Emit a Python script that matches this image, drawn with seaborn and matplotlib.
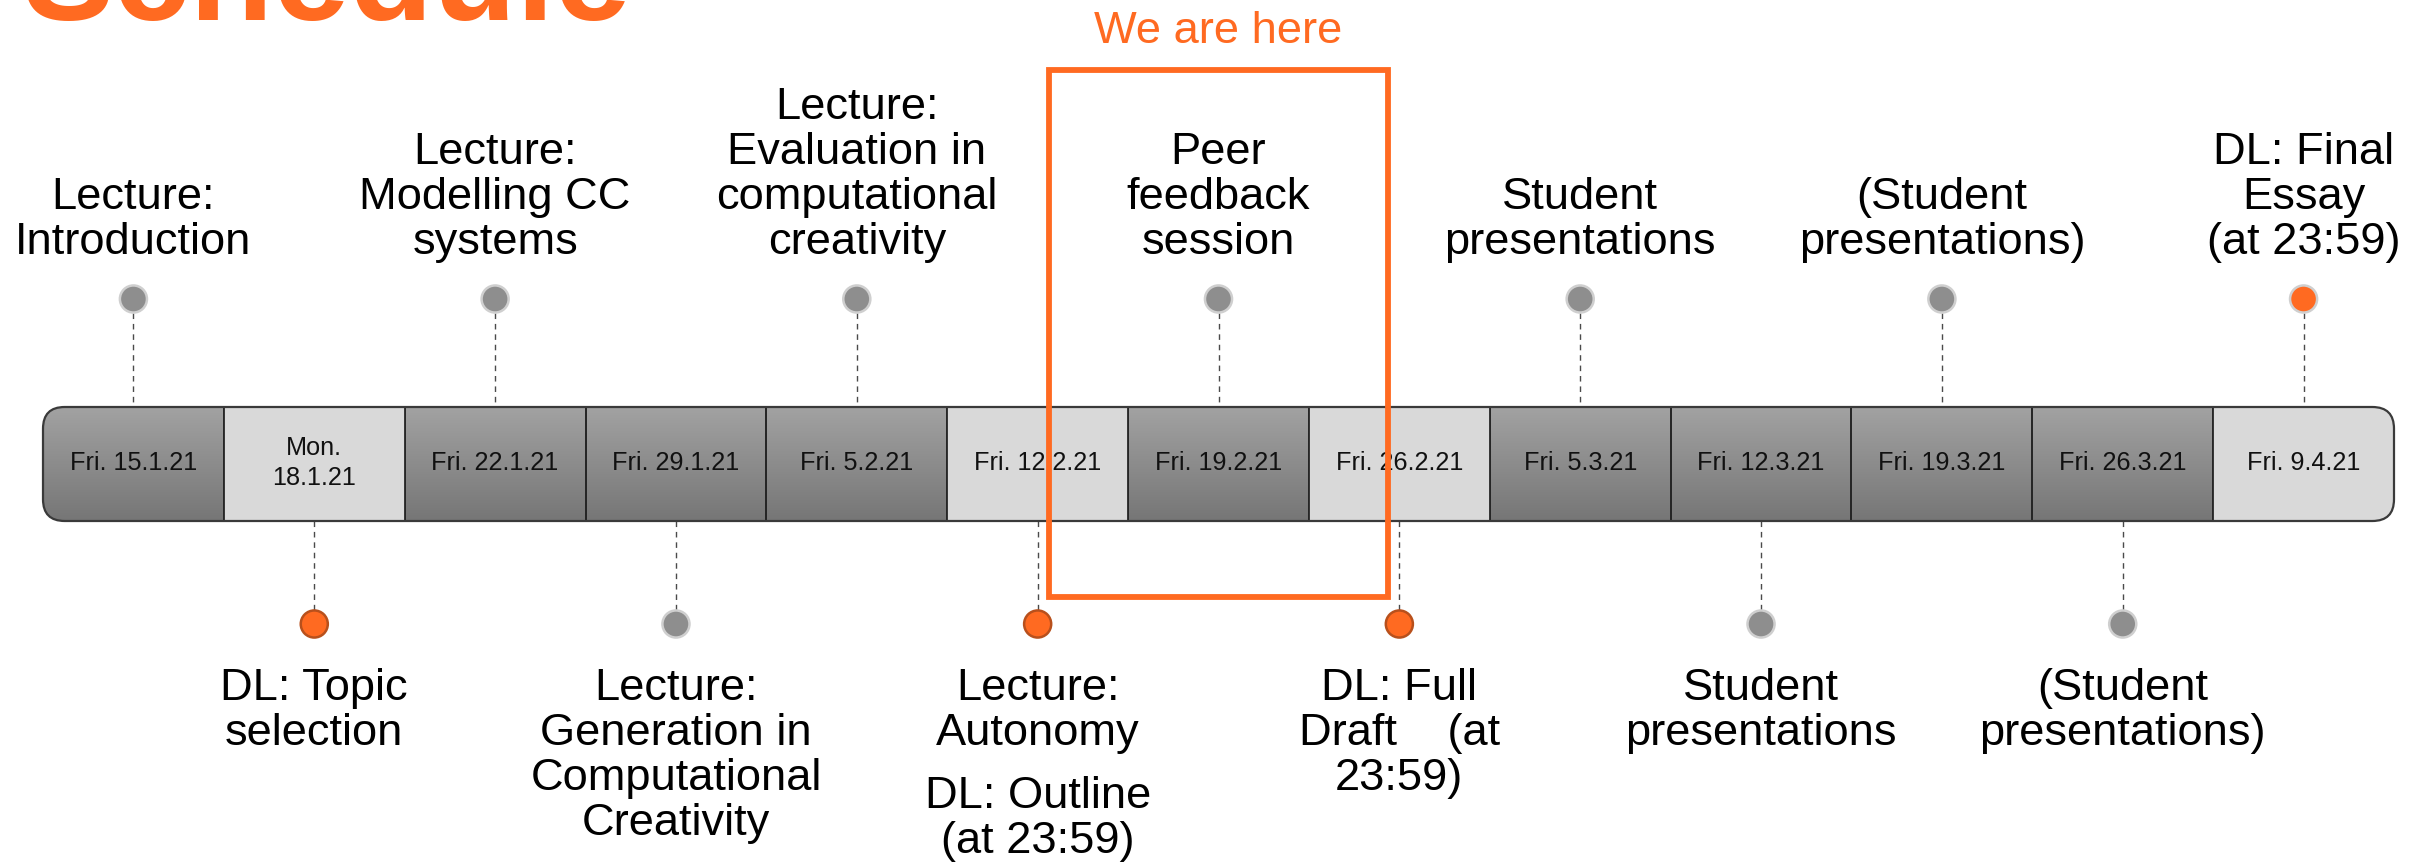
import numpy as np
import pandas as pd
import seaborn as sns
import matplotlib.pyplot as plt
from matplotlib.patches import FancyBboxPatch, Rectangle
from matplotlib.colors import LinearSegmentedColormap

# ---- data -------------------------------------------------------------
dates = ["Fri. 15.1.21", "Mon.\n18.1.21", "Fri. 22.1.21", "Fri. 29.1.21",
         "Fri. 5.2.21", "Fri. 12.2.21", "Fri. 19.2.21", "Fri. 26.2.21",
         "Fri. 5.3.21", "Fri. 12.3.21", "Fri. 19.3.21", "Fri. 26.3.21",
         "Fri. 9.4.21"]
cell_kind = ["session", "deadline", "session", "session", "session",
             "deadline", "session", "deadline", "session", "session",
             "session", "session", "deadline"]

event_labels = ["Lecture:\nIntroduction",
                "DL: Topic\nselection",
                "Lecture:\nModelling CC\nsystems",
                "Lecture:\nGeneration in\nComputational\nCreativity",
                "Lecture:\nEvaluation in\ncomputational\ncreativity",
                "Lecture:\nAutonomy",
                "Peer\nfeedback\nsession",
                "DL: Full\nDraft    (at\n23:59)",
                "Student\npresentations",
                "Student\npresentations",
                "(Student\npresentations)",
                "(Student\npresentations)",
                "DL: Final\nEssay\n(at 23:59)"]
event_side = ["top", "bottom"] * 6 + ["top"]
event_kind = ["lecture", "deadline", "lecture", "lecture", "lecture",
              "deadline", "lecture", "deadline", "lecture", "lecture",
              "lecture", "lecture", "deadline"]
extra_notes = {5: "DL: Outline\n(at 23:59)"}
current_week = 6

# ---- layout (figure pixels, y grows downwards) -------------------------
W, H = 2433, 866
BAR_TOP, BAR_H = 407, 114
TOP_MARK, BOT_MARK, MARK_R = 299, 624, 14
TOP_TEXT, BOT_TEXT, NOTE_TEXT = 263, 668, 776
PX_PER_CELL = (2394 - 43) / len(dates)
ORANGE = "#ff6a21"
BODY_FS, BODY_LS = 32.6, 1.12

sns.set_style("white")
plt.rcParams["font.family"] = ["Liberation Sans", "DejaVu Sans"]

fig = plt.figure(figsize=(W / 100, H / 100), dpi=100)
ax = fig.add_axes([0, 0, 1, 1])

cells = pd.DataFrame({"date": dates, "kind": cell_kind, "h": BAR_H})
sns.barplot(data=cells, x="date", y="h", hue="kind", order=dates,
            palette={"session": "#8c8c8c", "deadline": "#d9d9d9"},
            width=1.0, dodge=False, errorbar=None, legend=False,
            bottom=BAR_TOP, edgecolor="#262626", linewidth=1.3, zorder=2, ax=ax)

n = len(dates)
x_left = -0.5 - 43 / PX_PER_CELL
x_right = x_left + W / PX_PER_CELL

# rounded outline of the whole strip
outline = FancyBboxPatch((-0.5, BAR_TOP), n, BAR_H,
                         boxstyle="round,pad=0,rounding_size=0.12",
                         mutation_aspect=PX_PER_CELL,
                         fc="none", ec="#3a3a3a", lw=1.6, zorder=4)
ax.add_patch(outline)

# gradient fill behind the dark cells
grad_cmap = LinearSegmentedColormap.from_list("g", ["#a2a2a2", "#767676"])
grad = np.linspace(0, 1, 200).reshape(-1, 1)
im = ax.imshow(grad, cmap=grad_cmap, aspect="auto", origin="upper",
               extent=(-0.5, n - 0.5, BAR_TOP + BAR_H, BAR_TOP), zorder=1)
im.set_clip_path(outline)

for p in ax.patches:
    if p is outline:
        continue
    idx = int(round(p.get_x() + p.get_width() / 2))
    if cell_kind[idx] == "session":
        p.set_facecolor("none")
    p.set_clip_path(outline)

# date labels inside the cells
for i, d in enumerate(dates):
    ax.text(i, BAR_TOP + BAR_H / 2 - 1, d, ha="center", va="center",
            fontsize=18.2, linespacing=1.34, color="#111111", zorder=5)

# markers, connectors and event labels
ev = pd.DataFrame({"x": range(n), "side": event_side, "kind": event_kind})
ev["y"] = np.where(ev["side"] == "top", TOP_MARK, BOT_MARK)
edge_cols = ["#b8501c" if (k == "deadline" and s == "bottom") else "#cfcfcf"
             for k, s in zip(event_kind, event_side)]

for i, s in enumerate(event_side):
    if s == "top":
        ax.vlines(i, TOP_MARK + MARK_R, BAR_TOP, colors="#4a4a4a", lw=1.0,
                  linestyles=(0, (4, 3.5)), zorder=1)
        ax.text(i, TOP_TEXT, event_labels[i], ha="center", va="bottom",
                fontsize=BODY_FS, linespacing=BODY_LS, color="black")
    else:
        ax.vlines(i, BAR_TOP + BAR_H, BOT_MARK - MARK_R, colors="#4a4a4a", lw=1.0,
                  linestyles=(0, (4, 3.5)), zorder=1)
        ax.text(i, BOT_TEXT, event_labels[i], ha="center", va="top",
                fontsize=BODY_FS, linespacing=BODY_LS, color="black")
for i, note in extra_notes.items():
    ax.text(i, NOTE_TEXT, note, ha="center", va="top",
            fontsize=BODY_FS, linespacing=BODY_LS, color="black")

sns.scatterplot(data=ev, x="x", y="y", hue="kind",
                palette={"lecture": "#8e8e8e", "deadline": ORANGE},
                s=380, edgecolor=edge_cols, linewidth=1.8, legend=False,
                zorder=6, ax=ax)
ax.set_xlim(x_left, x_right)
ax.set_ylim(H, 0)
ax.axis("off")

# "we are here" box
half = 0.935
ax.add_patch(Rectangle((current_week - half, 70), 2 * half, 527, fill=False,
                       ec=ORANGE, lw=4.2, zorder=10))
ax.text(current_week, 43, "We are here", ha="center", va="baseline",
        fontsize=BODY_FS, color=ORANGE)

# slide title, cut by the top edge
fig.text(22 / W, 1 - 20 / H, "Schedule", fontsize=98.6, fontweight="bold",
         color=ORANGE, va="baseline", ha="left")

fig.savefig("out.png", dpi=100)
